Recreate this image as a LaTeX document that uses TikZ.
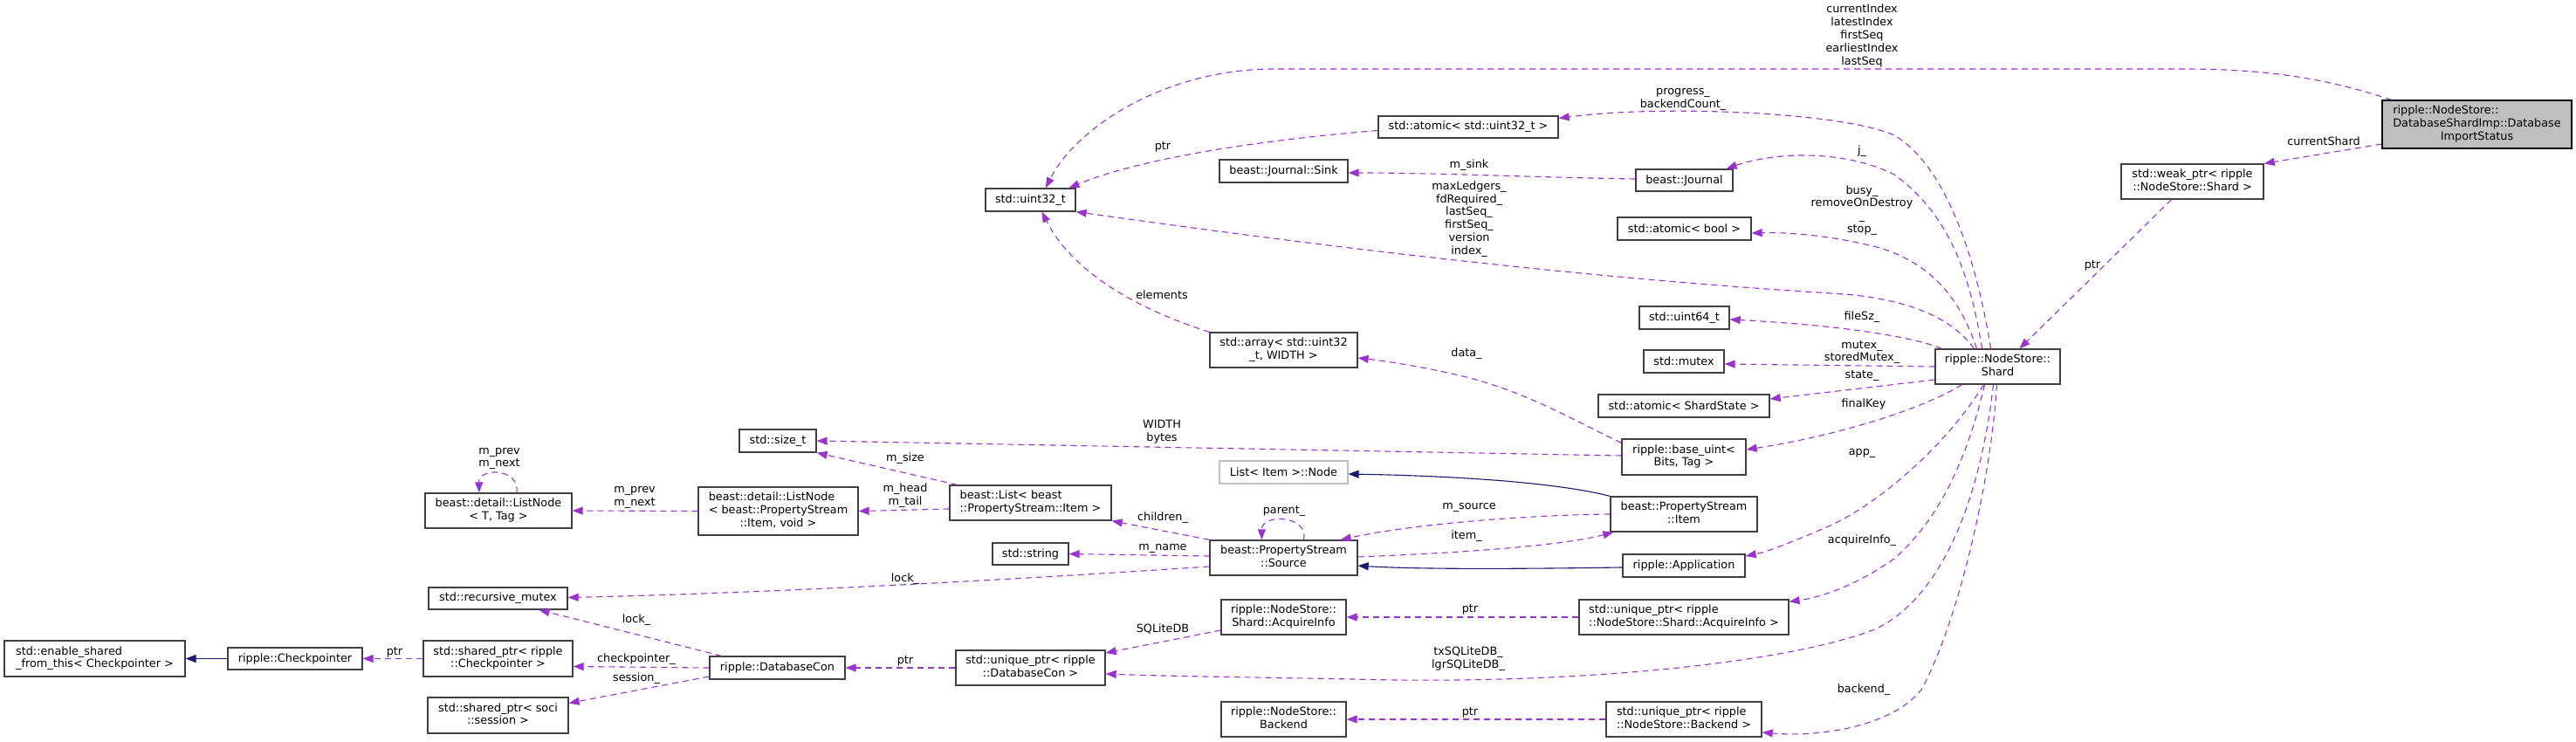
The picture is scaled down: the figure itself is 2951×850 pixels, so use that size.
\documentclass[tikz,border=0pt]{standalone}
\usepackage{fontspec}
\setmainfont{DejaVu Sans}
\usetikzlibrary{arrows.meta}
\definecolor{ucol}{HTML}{9A32CD}
\definecolor{icol}{HTML}{191970}
\definecolor{bord}{HTML}{404040}
\definecolor{rootfill}{HTML}{BFBFBF}
\definecolor{lightb}{HTML}{BFBFBF}
\newcommand{\ml}[2]{\begin{tabular}{@{}l@{}}#1\\\multicolumn{1}{@{}c@{}}{#2}\end{tabular}}
\begin{document}
\begin{tikzpicture}[x=1pt,y=-1pt,
  every node/.style={font=\fontsize{12.8}{14.8}\selectfont, inner sep=0pt},
  cbox/.style args={#1/#2}{draw=bord, line width=1.3pt, fill=white, minimum width=#1pt, minimum height=#2pt},
  usage/.style={draw=ucol, line width=1.1pt, dash pattern=on 7pt off 5pt, -{Triangle[length=12pt,width=9pt]}},
  inherit/.style={draw=icol, line width=1.1pt, -{Triangle[length=12pt,width=9pt]}},
  lab/.style={align=center}]
\useasboundingbox (0,0) rectangle (2951,850);
\fill[white] (0,0) rectangle (2951,850);

% nodes
\node[cbox=217/55, fill=rootfill, draw=black] (imp) at (2837.5,142.5) {\ml{ripple::NodeStore::\\DatabaseShardImp::Database}{ImportStatus}};
\node[cbox=163/40] (weak) at (2511.5,208) {\ml{std::weak\_ptr< ripple}{::NodeStore::Shard >}};
\node[cbox=143/40] (shard) at (2288.5,420) {\ml{ripple::NodeStore::}{Shard}};
\node[cbox=103/26] (uint32) at (1180.5,229) {std::uint32\_t};
\node[cbox=206/25] (atomicU32) at (1682,145.5) {std::atomic< std::uint32\_t >};
\node[cbox=147/26] (sink) at (1470.5,196) {beast::Journal::Sink};
\node[cbox=111/25] (journal) at (1929.5,206.5) {beast::Journal};
\node[cbox=153/26] (atomicBool) at (1929.5,262) {std::atomic< bool >};
\node[cbox=103/26] (uint64) at (1929.5,364) {std::uint64\_t};
\node[cbox=92/26] (mutex) at (1929,414) {std::mutex};
\node[cbox=169/40] (array) at (1470.5,401) {\ml{std::array< std::uint32}{\_t, WIDTH >}};
\node[cbox=196/26] (atomicState) at (1929,465) {std::atomic< ShardState >};
\node[cbox=142/41] (baseuint) at (1929,523.5) {\ml{ripple::base\_uint<}{Bits, Tag >}};
\node[cbox=88/26] (sizet) at (891,505) {std::size\_t};
\node[cbox=183/55] (listnodePS) at (891.5,585.5) {\ml{beast::detail::ListNode\\< beast::PropertyStream}{::Item, void >}};
\node[cbox=185/40] (list) at (1180.5,576) {\ml{beast::List< beast}{::PropertyStream::Item >}};
\node[cbox=168/40] (listnodeT) at (571,585) {\ml{beast::detail::ListNode}{< T, Tag >}};
\node[cbox=147/26, draw=lightb] (lnode) at (1470.5,541) {List< Item >::Node};
\node[cbox=168/40] (item) at (1929,589) {\ml{beast::PropertyStream}{::Item}};
\node[cbox=169/40] (source) at (1470.5,639) {\ml{beast::PropertyStream}{::Source}};
\node[cbox=87/25] (string) at (1180.5,634.5) {std::string};
\node[cbox=140/26] (app) at (1929,648) {ripple::Application};
\node[cbox=159/25] (recmutex) at (570.5,685.5) {std::recursive\_mutex};
\node[cbox=143/40] (acq) at (1470.5,707) {\ml{ripple::NodeStore::}{Shard::AcquireInfo}};
\node[cbox=240/40] (uacq) at (1929,707) {\ml{std::unique\_ptr< ripple}{::NodeStore::Shard::AcquireInfo >}};
\node[cbox=207/41] (enable) at (108.5,754.5) {\ml{std::enable\_shared}{\_from\_this< Checkpointer >}};
\node[cbox=154/25] (checkp) at (338,754.5) {ripple::Checkpointer};
\node[cbox=171/41] (sptrC) at (570.5,754.5) {\ml{std::shared\_ptr< ripple}{::Checkpointer >}};
\node[cbox=155/26] (dbcon) at (890.5,765) {ripple::DatabaseCon};
\node[cbox=171/40] (udb) at (1180.5,765) {\ml{std::unique\_ptr< ripple}{::DatabaseCon >}};
\node[cbox=161/41] (soci) at (570.5,819.5) {\ml{std::shared\_ptr< soci}{::session >}};
\node[cbox=143/40] (backend) at (1470.5,824) {\ml{ripple::NodeStore::}{Backend}};
\node[cbox=178/40] (ubackend) at (1929,824) {\ml{std::unique\_ptr< ripple}{::NodeStore::Backend >}};

% edges from root
\draw[usage] ([xshift=11pt]imp.north west) .. controls (2660,88) and (2590,79) .. (2500,79) -- (1460,79) .. controls (1330,79) and (1230,150) .. ([xshift=17.5pt]uint32.north);
\draw[usage] ([yshift=-22.5pt]imp.west) -- (weak.north east);
\draw[usage] ([xshift=-24pt]weak.south) -- ([xshift=25pt]shard.north);

% edges from Shard
\draw[usage] ([xshift=-8pt]shard.north) .. controls (2265,300) and (2230,190) .. (2170,155) .. controls (2110,128) and (1900,120) .. ([yshift=10pt]atomicU32.east);
\draw[usage] ([xshift=-18pt]shard.north) .. controls (2255,300) and (2225,240) .. (2170,200) .. controls (2110,170) and (2030,175) .. ([xshift=-8pt]journal.north east);
\draw[usage] ([xshift=-24pt]shard.north) .. controls (2245,340) and (2210,300) .. (2150,283) .. controls (2090,268) and (2040,266) .. ([yshift=-5pt]atomicBool.east);
\draw[usage] ([xshift=-27pt]shard.north) .. controls (2240,370) and (2200,345) .. (2114,337) .. controls (1800,318) and (1500,280) .. (uint32.south east);
\draw[usage] ([xshift=8pt]shard.north west) .. controls (2190,385) and (2100,372) .. ([yshift=-2pt]uint64.east);
\draw[usage] (shard.west) -- ([yshift=-3pt]mutex.east);
\draw[usage] ([yshift=-15pt]shard.west) -- ([yshift=8pt]atomicState.east);
\draw[usage] ([xshift=-41pt]shard.south) .. controls (2200,470) and (2100,500) .. ([yshift=8.5pt]baseuint.east);
\draw[usage] ([xshift=-16pt]shard.south) .. controls (2230,510) and (2150,580) .. (2090,605) .. controls (2050,622) and (2025,632) .. ([yshift=11pt]app.east);
\draw[usage] ([xshift=-15pt]shard.south) .. controls (2250,540) and (2215,600) .. (2170,640) .. controls (2120,675) and (2080,685) .. ([yshift=-3pt]uacq.north east);
\draw[usage] ([xshift=-5pt]shard.south) .. controls (2270,560) and (2230,680) .. (2150,720) .. controls (2050,760) and (1800,785) .. (1550,778) .. controls (1450,776) and (1350,775) .. ([yshift=-7pt]udb.east);
\draw[usage] ([xshift=-1pt]shard.south) .. controls (2280,560) and (2240,720) .. (2201,790) .. controls (2170,830) and (2090,845) .. ([yshift=-15pt]ubackend.east);

% other edges
\draw[usage] ([yshift=-4pt]atomicU32.west) .. controls (1450,160) and (1310,180) .. ([xshift=44pt]uint32.north);
\draw[usage] ([yshift=1.5pt]journal.west) .. controls (1750,203) and (1650,198) .. ([yshift=-2pt]sink.east);
\draw[usage] (array.north west) .. controls (1290,350) and (1225,305) .. ([xshift=13pt]uint32.south);
\draw[usage] ([yshift=-5pt]baseuint.north west) .. controls (1800,480) and (1750,450) .. (1680,432) .. controls (1630,420) and (1590,414) .. ([yshift=-9pt]array.east);
\draw[usage] ([yshift=1.5pt]baseuint.west) -- (sizet.east);
\draw[inherit] (item.north west) .. controls (1780,552) and (1660,545) .. ([yshift=-2pt]lnode.east);
\draw[usage] (item.west) .. controls (1750,590) and (1620,600) .. ([xshift=-20pt]source.north east);
\draw[usage] ([yshift=1pt]source.east) .. controls (1680,633) and (1790,625) .. ([xshift=4pt]item.south west);
\draw[inherit] ([yshift=-2pt]app.west) .. controls (1720,652) and (1620,652) .. ([yshift=-9pt]source.east);
\draw[usage] ([xshift=23pt]source.north) .. controls (1500,590) and (1445,588) .. ([xshift=-25pt]source.north);
\draw[usage] (source.north west) -- (list.south east);
\draw[usage] ([yshift=2pt]source.west) -- (string.east);
\draw[usage] ([yshift=-10pt]source.west) .. controls (1100,668) and (850,680) .. ([yshift=1pt]recmutex.east);
\draw[usage] ([xshift=9pt]list.north west) -- (sizet.south east);
\draw[usage] ([yshift=-7pt]list.west) -- (listnodePS.east);
\draw[usage] (listnodePS.west) -- (listnodeT.east);
\draw[usage] ([xshift=21pt]listnodeT.north) .. controls (596,536) and (548,535) .. ([xshift=-22pt]listnodeT.north);
\draw[usage] (uacq.west) -- (acq.east);
\draw[usage] ([yshift=-15pt]acq.west) -- ([yshift=17pt]udb.east);
\draw[usage] (udb.west) -- (dbcon.east);
\draw[usage] ([xshift=14pt]dbcon.north west) -- ([xshift=47pt]recmutex.south);
\draw[usage] (dbcon.west) -- ([yshift=-9pt]sptrC.east);
\draw[usage] ([yshift=-10pt]dbcon.west) -- ([yshift=14pt]soci.east);
\draw[usage] (sptrC.west) -- (checkp.east);
\draw[inherit] (checkp.west) -- (enable.east);
\draw[usage] (ubackend.west) -- (backend.east);

% labels
\node[lab] (l1) at (2133,41) {currentIndex\\latestIndex\\firstSeq\\earliestIndex\\lastSeq};
\node[lab] (l2) at (2662,162) {currentShard};
\node[lab] (l3) at (2397,304) {ptr};
\node[lab] (l4) at (1928,114) {progress\_\\backendCount\_};
\node[lab] (l5) at (2133,173) {j\_};
\node[lab] (l6) at (2133,241) {busy\_\\removeOnDestroy\\\_\\stop\_};
\node[lab] (l7) at (1683,251) {maxLedgers\_\\fdRequired\_\\lastSeq\_\\firstSeq\_\\version\\index\_};
\node[lab] (l8) at (2133,363) {fileSz\_};
\node[lab] (l9) at (2133,403.5) {mutex\_\\storedMutex\_};
\node[lab] (l10) at (2133,431) {state\_};
\node[lab] (l11) at (2135,463) {finalKey};
\node[lab] (l12) at (2133,519) {app\_};
\node[lab] (l13) at (2133,619) {acquireInfo\_};
\node[lab] (l14) at (1682,755) {txSQLiteDB\_\\lgrSQLiteDB\_};
\node[lab] (l15) at (2135,790) {backend\_};
\node[lab] (l16) at (1332,168) {ptr};
\node[lab] (l17) at (1683,189) {m\_sink};
\node[lab] (l18) at (1331,338) {elements};
\node[lab] (l19) at (1680,405) {data\_};
\node[lab] (l20) at (1331,495) {WIDTH\\bytes};
\node[lab] (l21) at (1683,581) {m\_source};
\node[lab] (l22) at (1680,614) {item\_};
\node[lab] (l23) at (1471,586) {parent\_};
\node[lab] (l24) at (1332,593) {children\_};
\node[lab] (l25) at (1332,628) {m\_name};
\node[lab] (l26) at (1037,663) {lock\_};
\node[lab] (l27) at (1037,525) {m\_size};
\node[lab] (l28) at (1037,567.5) {m\_head\\m\_tail};
\node[lab] (l29) at (727,570) {m\_prev\\m\_next};
\node[lab] (l30) at (572,525.5) {m\_prev\\m\_next};
\node[lab] (l31) at (1684,698) {ptr};
\node[lab] (l32) at (1332,720) {SQLiteDB};
\node[lab] (l33) at (1037,757) {ptr};
\node[lab] (l34) at (729,710) {lock\_};
\node[lab] (l35) at (729,755) {checkpointer\_};
\node[lab] (l36) at (729,777) {session\_};
\node[lab] (l37) at (452,747) {ptr};
\node[lab] (l38) at (1684,816) {ptr};
\end{tikzpicture}
\end{document}
